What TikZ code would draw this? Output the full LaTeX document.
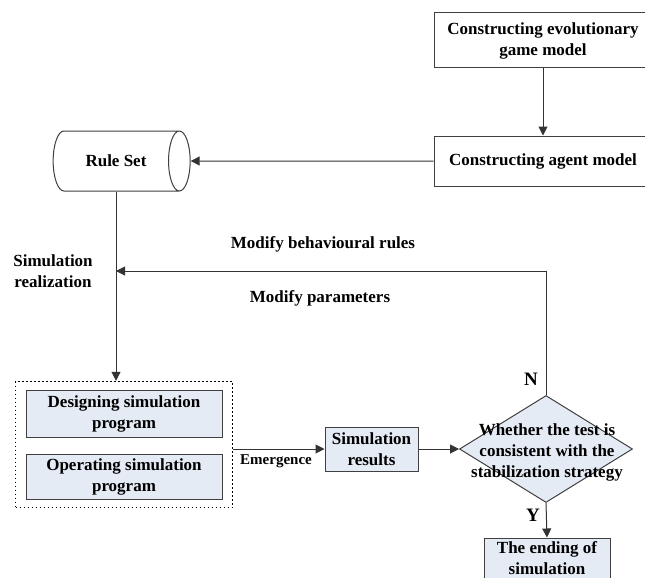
\documentclass[tikz,border=0pt]{standalone}
\usepackage{fontspec}
\setmainfont{Liberation Serif}
\usepackage{tikz}
\usetikzlibrary{arrows.meta,positioning,shapes.geometric,fit}
\definecolor{boxfill}{RGB}{229,235,245}

\begin{document}
\begin{tikzpicture}[
  x=1pt, y=-1pt, every node/.style={font=\fontsize{17}{21}\selectfont\bfseries, inner sep=0pt},
  box/.style={rectangle, draw=black!75, line width=1pt, align=center},
  sbox/.style={box, fill=boxfill},
  ruleset/.style={cylinder, draw=black!75, line width=1pt, fill=white, aspect=1.8,
                  minimum width=60pt, minimum height=137pt},
  decision/.style={diamond, draw=black!75, line width=1pt, fill=boxfill,
                   minimum width=173pt, minimum height=107pt},
  dotbox/.style={draw=black, line width=1.4pt, dash pattern=on 1.4pt off 2.6pt,
                 inner xsep=10pt, inner ysep=8pt},
  ar/.style={-{Triangle[length=9pt,width=9pt]}, line width=1pt, black!80},
  lbl/.style={inner sep=1pt},
  yn/.style={lbl, font=\fontsize{19}{21}\selectfont\bfseries},
]
\useasboundingbox (0,0) rectangle (645,578);
% ---------------- model building ----------------
\node[box, minimum width=218pt, minimum height=55pt] (game) at (543,40.5)
     {Constructing evolutionary\\game model};
\node[box, minimum width=218pt, minimum height=50pt] (agent) at (543,161)
     {Constructing agent model};
\node[ruleset] (rule) at (116,161) {Rule Set};
\draw[ar] (game) -- (agent);
\draw[ar] (agent.west) -- (rule.east);
% ---------------- simulation program ----------------
\node[sbox, minimum width=196pt, minimum height=47pt] (design) at (124,413.5)
     {Designing simulation\\program};
\node[sbox, minimum width=196pt, minimum height=45pt] (operate) at (124,476.5)
     {Operating simulation\\program};
\node[dotbox, fit=(design)(operate)] (simbox) {};
\node[lbl, align=center] (simreal) at (53,271.5) {Simulation\\realization};
\draw[ar] (rule.south) -- (rule.south |- simbox.north);
% ---------------- results and test ----------------
\node[sbox, minimum width=93pt, minimum height=44pt] (res) at (371.5,449)
     {Simulation\\results};
\node[decision] (test) at (546,449) {};
\node[align=center] (testtxt) at (547,452)
     {Whether the test is\\consistent with the\\stabilization strategy};
\node[sbox, minimum width=126pt, minimum height=40pt] (ending) at (547,558)
     {The ending of\\simulation};
\draw[ar] (simbox.east |- res.west) -- (res.west);
\node[lbl, font=\fontsize{15}{18}\selectfont\bfseries] (emerg) at (276,461) {Emergence};
\draw[ar] (res.east) -- (test.west);
\draw[ar] (test.south) -- (ending.north);
\node[yn] (ylbl) at (533,515) {Y};
% ---------------- feedback ----------------
\coordinate (fb) at (rule.south |- 0,271);
\draw[ar] (test.north) |- (fb);
\node[yn] (nlbl) at (531,379) {N};
\node[lbl] (modrules) at (323,244) {Modify behavioural rules};
\node[lbl] (modpar) at (320,298) {Modify parameters};
\end{tikzpicture}
\end{document}
